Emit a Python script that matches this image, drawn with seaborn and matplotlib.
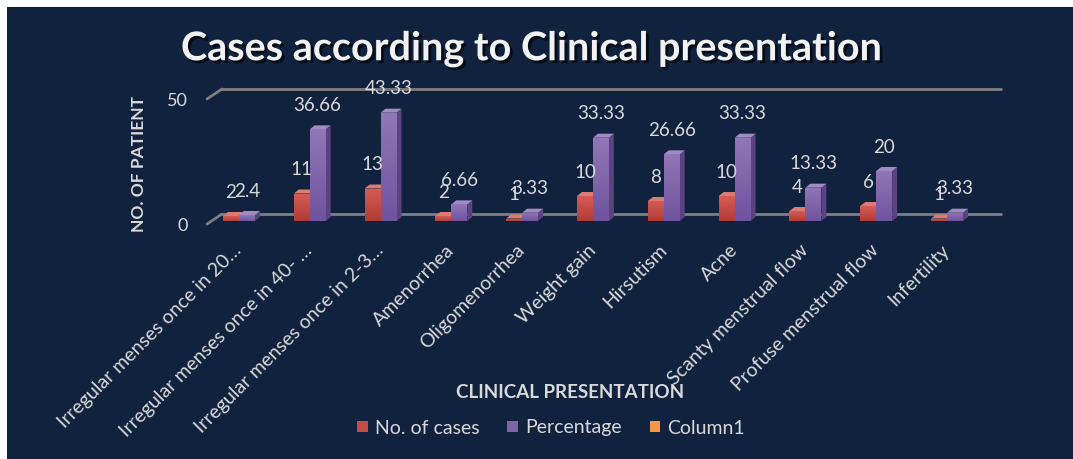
import matplotlib
matplotlib.use("Agg")
import matplotlib.pyplot as plt
import matplotlib.patheffects as pe
from matplotlib.patches import Polygon, Patch, Rectangle
from matplotlib.lines import Line2D
from matplotlib.colors import LinearSegmentedColormap
from matplotlib.transforms import ScaledTranslation
import numpy as np
import seaborn as sns
import pandas as pd

# ---- data -------------------------------------------------------------
categories = [
    "Irregular menses once in 20\u2026",
    "Irregular menses once in 40- \u2026",
    "Irregular menses once in 2-3\u2026",
    "Amenorrhea",
    "Oligomenorrhea",
    "Weight gain",
    "Hirsutism",
    "Acne",
    "Scanty menstrual flow",
    "Profuse menstrual flow",
    "Infertility",
]
no_of_cases = [2, 11, 13, 2, 1, 10, 8, 10, 4, 6, 1]
percentage = [2.4, 36.66, 43.33, 6.66, 3.33, 33.33, 26.66, 33.33, 13.33, 20, 3.33]
series_names = ["No. of cases", "Percentage", "Column1"]
y_ticks = [0, 50]

# ---- style ------------------------------------------------------------
navy = "#10223e"
text_col = "#d9d9d9"
grid_col = "#7f7f7f"
front_col = {"No. of cases": "#c44b46", "Percentage": "#8064aa", "Column1": "#f79646"}
grad_col = {"No. of cases": ("#d65d56", "#b13b36"),
            "Percentage": ("#9077b6", "#70539f")}
side_col = {"No. of cases": "#8c3432", "Percentage": "#5a4380"}
top_col = {"No. of cases": "#dc7a74", "Percentage": "#a28bc4"}

sns.set_theme(style="white")
plt.rcParams["font.family"] = ["Lato", "DejaVu Sans"]

W, H = 1073, 459
fig = plt.figure(figsize=(W / 100, H / 100), dpi=100)
fig.patch.set_facecolor("white")
fig.add_artist(Rectangle((7 / W, 0), 1 - 7 / W, 1 - 7 / H,
                         transform=fig.transFigure, facecolor=navy,
                         edgecolor="none", zorder=-10))

ax = fig.add_axes([207 / W, (H - 221) / H, 779 / W, 125 / H])
ax.set_facecolor("none")

df = pd.DataFrame({
    "category": categories * 2,
    "value": no_of_cases + percentage,
    "series": [series_names[0]] * len(categories) + [series_names[1]] * len(categories),
})

sns.barplot(data=df, x="category", y="value", hue="series",
            hue_order=series_names[:2], palette=front_col, order=categories,
            width=0.45, errorbar=None, legend=False, ax=ax,
            saturation=1, linewidth=0, zorder=3)

ax.set_xlim(-0.45, 10.55)
ax.set_ylim(0, 50)
for s in ax.spines.values():
    s.set_visible(False)

# pixel -> data unit conversion for the oblique depth effect
p0 = ax.transData.transform((0, 0))
px_x = ax.transData.transform((1, 0))[0] - p0[0]
px_y = ax.transData.transform((0, 1))[1] - p0[1]


def dx(px):
    return px / px_x


def dy(px):
    return px / px_y


# back wall gridlines and left wall edges
x_lo, x_hi = ax.get_xlim()
for v in y_ticks:
    ax.add_line(Line2D([x_lo + dx(15), x_hi + dx(15)], [v + dy(7), v + dy(7)],
                       color=grid_col, lw=2, zorder=1, clip_on=False))
    ax.add_line(Line2D([x_lo, x_lo + dx(15)], [v - dy(3), v + dy(7)],
                       color=grid_col, lw=2, zorder=1, clip_on=False))

# shaded front faces plus side and top faces for every bar
depth_x, depth_y = dx(5), dy(4)
ramp = np.linspace(0, 1, 64).reshape(-1, 1)
for name, cont in zip(series_names[:2], ax.containers):
    cmap = LinearSegmentedColormap.from_list(name, list(grad_col[name]))
    for bar in cont:
        x0, w, h = bar.get_x(), bar.get_width(), bar.get_height()
        im = ax.imshow(ramp, cmap=cmap, extent=(x0, x0 + w, 0, h), origin="upper",
                       aspect="auto", interpolation="bilinear", zorder=3.1)
        im.set_clip_path(bar)
        side = Polygon([(x0 + w, 0), (x0 + w + depth_x, depth_y),
                        (x0 + w + depth_x, h + depth_y), (x0 + w, h)],
                       closed=True, facecolor=side_col[name], edgecolor="none",
                       zorder=2.5, clip_on=False)
        top = Polygon([(x0, h), (x0 + depth_x, h + depth_y),
                       (x0 + w + depth_x, h + depth_y), (x0 + w, h)],
                      closed=True, facecolor=top_col[name], edgecolor="none",
                      zorder=2.5, clip_on=False)
        ax.add_patch(side)
        ax.add_patch(top)
        bar.set_clip_on(False)

ax.set_xlim(-0.45, 10.55)
ax.set_ylim(0, 50)

# value labels
for cont, vals in zip(ax.containers, [no_of_cases, percentage]):
    ax.bar_label(cont, labels=[f"{v:g}" for v in vals], padding=11,
                 color=text_col, fontsize=13.5, zorder=5)

# axes text
ax.set_yticks(y_ticks)
ax.tick_params(axis="y", length=0, pad=14, labelsize=13, labelcolor=text_col)
ax.tick_params(axis="x", length=0, pad=19, labelsize=14, labelcolor=text_col)
ax.set_xticks(range(len(categories)))
ax.set_xticklabels(categories, rotation=45, ha="right", va="center",
                   rotation_mode="anchor")
shift_down = ScaledTranslation(0, -2.5 / 72, fig.dpi_scale_trans)
for lab in ax.get_yticklabels():
    lab.set_transform(lab.get_transform() + shift_down)

ax.set_ylabel("NO. OF PATIENT", fontsize=12.5, fontweight="bold", color=text_col)
ax.yaxis.set_label_coords((147 - 207) / 779, 0.46)
ax.set_xlabel("CLINICAL PRESENTATION", fontsize=13.5, fontweight="bold", color=text_col)
ax.xaxis.set_label_coords((570 - 207) / 779, -(384 - 221) / 125)

fig.text(532 / W, 1 - 49 / H, "Cases according to Clinical presentation",
         ha="center", va="center", fontsize=28.5, fontweight="bold", color="#f2f2f2",
         path_effects=[pe.SimplePatchShadow(offset=(2, -2), shadow_rgbFace="black",
                                            alpha=0.6), pe.Normal()])

handles = [Patch(facecolor=front_col[n], edgecolor="none") for n in series_names]
fig.legend(handles, series_names, loc="center", bbox_to_anchor=(551 / W, 1 - 428 / H),
           ncol=3, frameon=False, handlelength=0.55, handleheight=0.55,
           handletextpad=0.35, columnspacing=1.45, labelcolor=text_col, fontsize=14)

fig.savefig("out.png", dpi=100, facecolor=fig.get_facecolor())
